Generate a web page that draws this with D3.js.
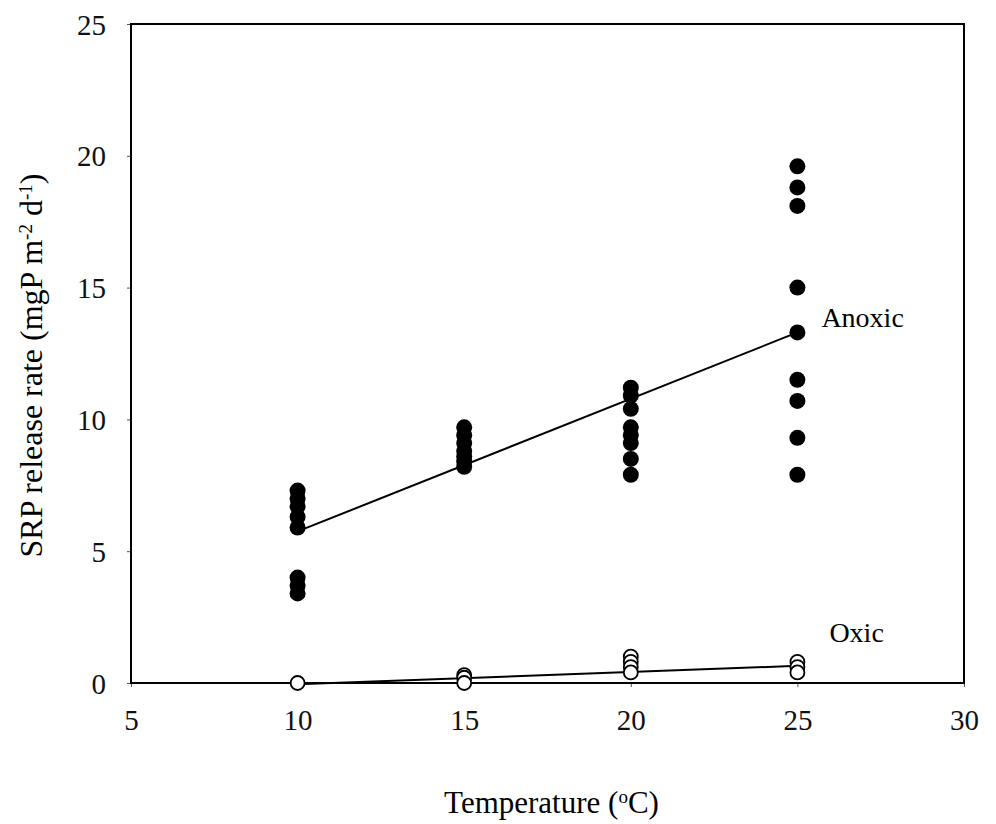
<!DOCTYPE html>
<html>
<head>
<meta charset="utf-8">
<script src="https://cdnjs.cloudflare.com/ajax/libs/d3/7.8.5/d3.min.js"></script>
<style>
  body { margin: 0; background: #fff; }
  svg { font-family: "Liberation Serif", "Times New Roman", serif; }
  .tick text { font-size: 29px; fill: #111; }
  .tick line { stroke: #555; }
  .domain { display: none; }
</style>
</head>
<body>
<svg width="996" height="824"></svg>
<script>
// readings from the figure
var temps = [10, 15, 20, 25];
var anoxic10 = [7.3, 7.0, 6.7, 6.3, 5.9, 4.0, 3.7, 3.4];
var anoxic15 = [9.7, 9.4, 9.1, 8.8, 8.6, 8.4, 8.2];
var anoxic20 = [11.2, 10.9, 10.4, 9.7, 9.4, 9.1, 8.5, 7.9];
var anoxic25 = [19.6, 18.8, 18.1, 15.0, 13.3, 11.5, 10.7, 9.3, 7.9];
var oxic10 = [0.0];
var oxic15 = [0.3, 0.2, 0.0];
var oxic20 = [1.0, 0.8, 0.6, 0.4];
var oxic25 = [0.8, 0.6, 0.4];
var anoxicFit = [[10, 5.75], [25, 13.3]];
var oxicFit = [[10, -0.05], [25, 0.65]];
var xTicks = [5, 10, 15, 20, 25, 30];
var yTicks = [0, 5, 10, 15, 20, 25];

var svg = d3.select("svg");
var mLeft = 131, mRight = 964, mTop = 24, mBottom = 683;

var x = d3.scaleLinear().domain([5, 30]).range([mLeft, mRight]);
var y = d3.scaleLinear().domain([0, 25]).range([mBottom, mTop]);

function toPoints(groups) {
  var pts = [];
  groups.forEach(function(vals, i) {
    vals.forEach(function(v) { pts.push({t: temps[i], v: v}); });
  });
  return pts;
}
var anoxic = toPoints([anoxic10, anoxic15, anoxic20, anoxic25]);
var oxic = toPoints([oxic10, oxic15, oxic20, oxic25]);

// axes
svg.append("g")
  .attr("transform", "translate(0," + mBottom + ")")
  .call(d3.axisBottom(x).tickValues(xTicks).tickSize(4).tickPadding(22))
  .attr("font-family", null).attr("font-size", null)
  .selectAll("text").attr("dy", "0.71em");

svg.append("g")
  .attr("transform", "translate(" + mLeft + ",0)")
  .call(d3.axisLeft(y).tickValues(yTicks).tickSize(4).tickPadding(21))
  .attr("font-family", null).attr("font-size", null)
  .selectAll("text").attr("dy", "0.35em");

// frame
svg.append("rect")
  .attr("x", mLeft).attr("y", mTop)
  .attr("width", mRight - mLeft).attr("height", mBottom - mTop)
  .attr("fill", "none").attr("stroke", "#000").attr("stroke-width", 2);

var line = d3.line().x(function(d) { return x(d[0]); }).y(function(d) { return y(d[1]); });

svg.append("path").datum(anoxicFit).attr("d", line)
  .attr("fill", "none").attr("stroke", "#000").attr("stroke-width", 2);
svg.append("path").datum(oxicFit).attr("d", line)
  .attr("fill", "none").attr("stroke", "#000").attr("stroke-width", 2);

svg.selectAll("circle.anoxic").data(anoxic).enter().append("circle")
  .attr("class", "anoxic")
  .attr("cx", function(d) { return x(d.t); })
  .attr("cy", function(d) { return y(d.v); })
  .attr("r", 8)
  .attr("fill", "#000");

svg.selectAll("circle.oxic").data(oxic).enter().append("circle")
  .attr("class", "oxic")
  .attr("cx", function(d) { return x(d.t); })
  .attr("cy", function(d) { return y(d.v); })
  .attr("r", 7)
  .attr("fill", "#fff")
  .attr("stroke", "#000")
  .attr("stroke-width", 1.8);

// series labels
svg.append("text").attr("x", x(25) + 24).attr("y", y(13.5))
  .style("font-size", "28px").text("Anoxic");
svg.append("text").attr("x", x(25) + 32).attr("y", y(1.55))
  .style("font-size", "28px").text("Oxic");

// axis titles
var xt = svg.append("text")
  .attr("x", (mLeft + mRight) / 2 + 4).attr("y", 813)
  .attr("text-anchor", "middle")
  .style("font-size", "31px");
xt.append("tspan").text("Temperature (");
xt.append("tspan").attr("baseline-shift", "super").style("font-size", "19px").text("o");
xt.append("tspan").text("C)");

var yt = svg.append("text")
  .attr("transform", "translate(42," + ((mTop + mBottom) / 2 + 12) + ") rotate(-90)")
  .attr("text-anchor", "middle")
  .style("font-size", "32px");
yt.append("tspan").text("SRP release rate (mgP m");
yt.append("tspan").attr("baseline-shift", "super").style("font-size", "19px").text("-2");
yt.append("tspan").text(" d");
yt.append("tspan").attr("baseline-shift", "super").style("font-size", "19px").text("-1");
yt.append("tspan").text(")");
</script>
</body>
</html>
